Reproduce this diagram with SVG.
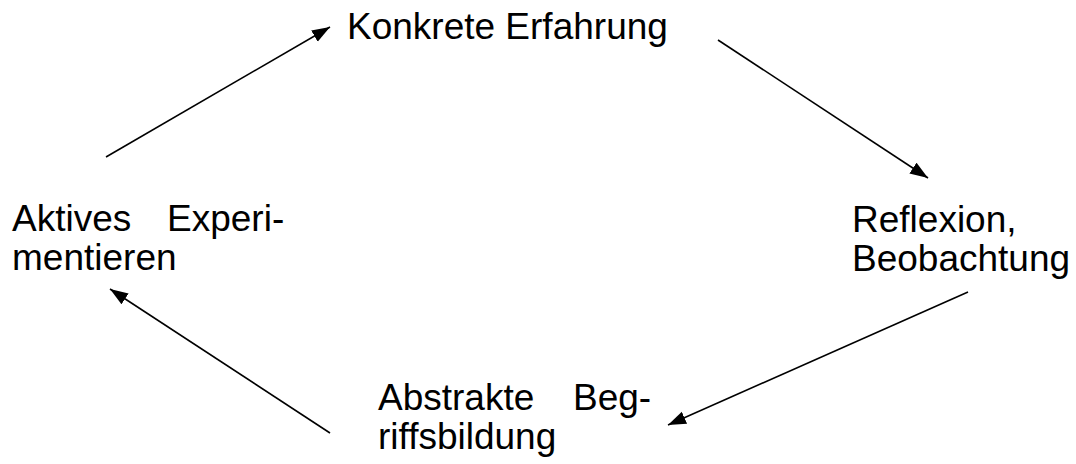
<svg xmlns="http://www.w3.org/2000/svg" width="1076" height="464" viewBox="0 0 1076 464">
<style>
text{font-family:"Liberation Sans",Arial,sans-serif;font-size:37px;fill:#000}
.c line{stroke:#000;stroke-width:1.6;fill:none}
</style>
<defs>
<marker id="ah" markerUnits="userSpaceOnUse" markerWidth="19" markerHeight="14" refX="18" refY="7" orient="auto">
<path d="M0,0.5 L18,7 L0,13.5 z" fill="#000"/>
</marker>
</defs>
<rect width="1076" height="464" fill="#fff"/>
<g id="n1"><text x="347" y="39">Konkrete Erfahrung</text></g>
<g id="n2"><text x="852" y="232">Reflexion,</text><text x="852" y="271">Beobachtung</text></g>
<g id="n3"><text y="410"><tspan x="378">Abstrakte</tspan><tspan x="573">Beg-</tspan></text><text x="378" y="449">riffsbildung</text></g>
<g id="n4"><text y="231"><tspan x="12">Aktives</tspan><tspan x="167">Experi-</tspan></text><text x="12" y="270">mentieren</text></g>
<g class="c" id="connectors">
<line x1="106" y1="157" x2="330" y2="27" marker-end="url(#ah)"/>
<line x1="718" y1="40" x2="928" y2="178" marker-end="url(#ah)"/>
<line x1="968" y1="292" x2="668" y2="425" marker-end="url(#ah)"/>
<line x1="330" y1="433" x2="110" y2="289" marker-end="url(#ah)"/>
</g>
</svg>
